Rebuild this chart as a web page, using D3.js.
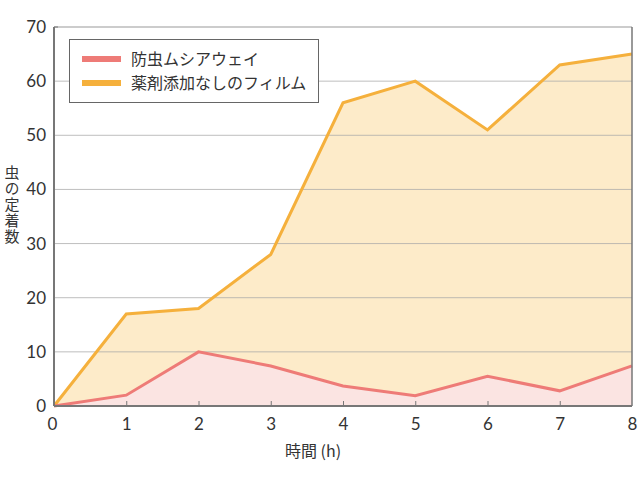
<!DOCTYPE html>
<html><head><meta charset="utf-8">
<script src="https://cdn.jsdelivr.net/npm/d3@7"></script>
<style>body{margin:0;background:#fff;} text{font-family:"Noto Sans CJK JP","Noto Sans",sans-serif;}</style>
</head><body>
<svg id="c" width="640" height="480"></svg>
<script>
const hours = [0,1,2,3,4,5,6,7,8];
const seriesNames = ["防虫ムシアウェイ","薬剤添加なしのフィルム"];
const repellent = [0,2,10,7.4,3.7,1.9,5.5,2.8,7.4];
const plain = [0,17,18,28,56,60,51,63,65];
const yTicks = [0,10,20,30,40,50,60,70];
const xLabel = "時間 (h)";
const yLabel = "虫の定着数";

const svg = d3.select("#c");
const L=54, R=632, T=27, B=406;
const x = d3.scaleLinear().domain([0,8]).range([L,R]);
const y = d3.scaleLinear().domain([0,70]).range([B,T]);

const area = d3.area().x((d,i)=>x(hours[i])).y0(y(0)).y1(d=>y(d));
const line = d3.line().x((d,i)=>x(hours[i])).y(d=>y(d));

svg.append("path").attr("d",area(plain)).attr("fill","#fdebc9");
svg.append("path").attr("d",area(repellent)).attr("fill","#fbe4e2");

svg.append("g").selectAll("line").data(yTicks.filter(d=>d>0&&d<70)).join("line")
  .attr("x1",L).attr("x2",R).attr("y1",d=>y(d)).attr("y2",d=>y(d))
  .attr("stroke","#a8a8a8").attr("stroke-opacity",0.75).attr("stroke-width",1);

svg.append("path").attr("d",line(plain)).attr("fill","none").attr("stroke","#f5b03c").attr("stroke-width",3);
svg.append("path").attr("d",line(repellent)).attr("fill","none").attr("stroke","#ee7b77").attr("stroke-width",3);

// frame
svg.append("line").attr("x1",L).attr("x2",R).attr("y1",T).attr("y2",T).attr("stroke","#999").attr("stroke-width",1);
svg.append("line").attr("x1",R).attr("x2",R).attr("y1",T).attr("y2",B).attr("stroke","#777").attr("stroke-width",1.5);

const tickFont = "Lato, 'Noto Sans', sans-serif";
// axes
const yAxis = svg.append("g").attr("transform",`translate(${L},0)`)
  .call(d3.axisLeft(y).tickValues(yTicks).tickSize(0).tickPadding(8));
yAxis.select(".domain").attr("stroke","#777").attr("stroke-width",2).attr("d",`M0,${T}V${B}`);
yAxis.selectAll("text").attr("font-size",17).attr("fill","#333").style("font-family",tickFont);
svg.append("line").attr("x1",L).attr("x2",L+4).attr("y1",T).attr("y2",T).attr("stroke","#777");

const xAxis = svg.append("g").attr("transform",`translate(0,${B})`)
  .call(d3.axisBottom(x).tickValues(hours).tickSize(-5).tickPadding(12).tickFormat(d3.format("d")));
xAxis.select(".domain").attr("stroke","#777").attr("stroke-width",2).attr("d",`M${L},0H${R}`);
xAxis.selectAll(".tick line").attr("stroke","#777").filter(d=>d===0||d===8).remove();
xAxis.selectAll("text").attr("font-size",17).attr("fill","#333").style("font-family",tickFont);
xAxis.selectAll(".tick").filter(d=>d===0).select("text").attr("dx",-2);

svg.append("text").attr("x",313).attr("y",457).attr("text-anchor","middle")
  .attr("font-size",16).attr("fill","#333").text(xLabel);

svg.append("text").attr("x",12).attr("y",165).attr("font-size",15).attr("fill","#333")
  .style("writing-mode","vertical-rl").style("text-orientation","upright")
  .attr("letter-spacing",1).text(yLabel);

// legend
const lg = svg.append("g");
lg.append("rect").attr("x",69.5).attr("y",39.5).attr("width",249).attr("height",63)
  .attr("fill","#fff").attr("stroke","#666").attr("stroke-width",1);
const cols = ["#ee7b77","#f5b03c"];
seriesNames.forEach((n,i)=>{
  const yy = 59 + i*24;
  lg.append("line").attr("x1",82).attr("x2",121).attr("y1",yy).attr("y2",yy).attr("stroke",cols[i]).attr("stroke-width",6);
  lg.append("text").attr("x",131).attr("y",yy+6).attr("font-size",16).attr("fill","#333").text(n);
});
</script>
</body></html>
